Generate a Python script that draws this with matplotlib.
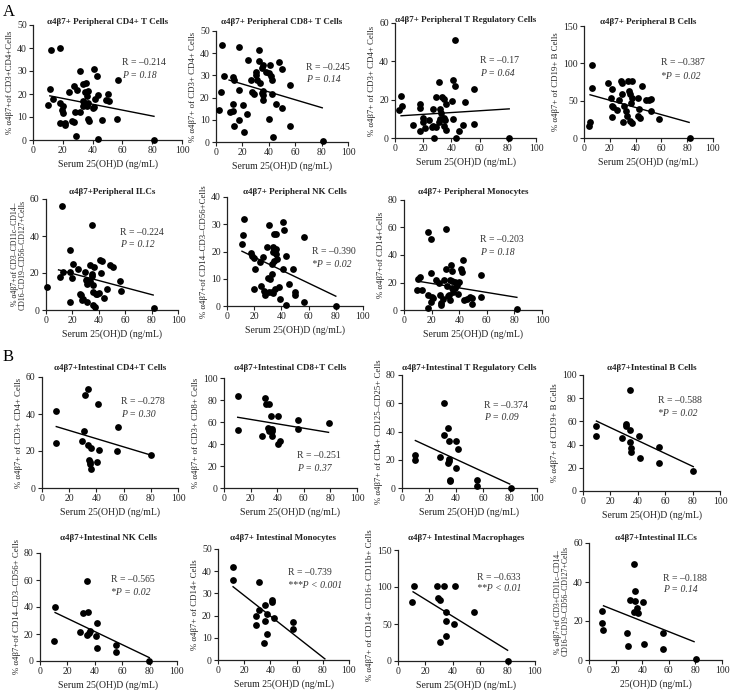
import matplotlib
matplotlib.use("Agg")
import matplotlib.pyplot as plt
import numpy as np

plt.rcParams['font.family'] = ['Liberation Serif', 'DejaVu Serif']

W, H = 730, 690

# ---------------- data ----------------
p1 = [(12.2,39.0),(18.4,40.1),(11.3,22.1),(10.4,15.4),(13.4,18.0),(17.9,16.1),(19.8,14.7),(19.5,13.2),(19.8,11.8),(18.4,7.4),
      (21.2,7.4),(21.6,6.4),(24.2,20.9),(27.5,23.4),(29.4,21.9),(31.8,29.9),(28.2,12.2),(26.4,8.1),(27.5,7.8),(31.3,12.2),
      (33.6,16.9),(33.6,24.4),(35.3,24.6),(34.6,20.9),(36.0,19.0),(34.8,16.1),(33.4,14.7),(36.5,14.7),(36.9,16.1),(36.7,9.3),
      (37.6,8.1),(36.9,21.5),(40.7,30.7),(42.8,27.8),(43.5,19.5),(41.9,17.9),(40.0,13.7),(41.2,14.2),(46.4,8.7),(48.8,17.6),
      (50.6,20.2),(51.3,16.9),(57.2,25.9),(56.5,9.3),(28.7,1.6),(43.8,0.3),(81.0,0.0)]
p2 = [(4.5,43.7),(17.8,42.9),(32.7,41.4),(23.9,36.9),(32.9,36.3),(2.5,14.6),(4.0,22.6),(6.3,29.7),(12.6,29.4),(13.3,27.9),
      (17.8,23.6),(12.6,17.3),(12.6,14.0),(10.8,13.6),(13.8,7.1),(17.3,9.8),(21.4,4.5),(23.4,12.8),(20.4,16.6),(26.6,28.0),
      (27.1,22.3),(29.1,21.8),(30.2,31.6),(30.4,30.1),(31.4,28.0),(33.4,26.4),(34.7,33.4),(35.9,34.6),(35.4,23.0),(35.4,21.1),
      (35.9,18.8),(34.7,22.1),(38.2,31.6),(40.2,31.2),(40.9,34.6),(41.7,29.7),(42.2,27.9),(42.7,21.8),(40.2,10.5),(43.2,2.3),
      (45.5,17.3),(47.7,36.1),(50.3,33.1),(50.3,15.5),(56.3,25.6),(56.3,7.1),(81.2,0.5)]
p3 = [(42.7,51.0),(31.3,29.4),(41.0,30.3),(42.2,27.3),(55.7,25.4),(3.1,14.4),(4.0,22.0),(5.2,16.8),(12.6,6.9),(17.8,17.8),
      (17.8,15.9),(20.1,10.4),(20.1,8.1),(17.8,3.5),(21.3,5.2),(24.2,9.5),(26.8,15.2),(26.1,5.5),(27.3,6.4),(28.9,21.3),
      (29.1,5.5),(28.0,0.0),(32.0,15.1),(32.7,13.0),(33.6,21.3),(35.0,20.2),(36.0,17.8),(32.2,10.0),(34.4,10.4),(35.5,9.5),
      (35.1,6.1),(36.0,4.3),(31.0,8.1),(40.3,19.5),(41.0,10.0),(43.1,0.0),(45.7,3.8),(47.9,6.9),(49.8,19.0),(56.2,7.3),(81.0,0.0)]
p4 = [(6.0,97.9),(6.5,66.8),(3.9,15.6),(4.7,20.9),(18.9,73.4),(21.5,65.4),(20.7,53.4),(21.5,42.3),(22.8,41.4),(22.0,28.0),
      (25.4,37.8),(27.2,51.2),(28.8,77.0),(29.3,73.4),(29.3,58.7),(31.1,42.3),(30.6,20.9),(32.4,35.6),(33.2,28.9),(33.9,75.7),
      (34.5,63.6),(35.8,58.7),(37.0,75.7),(37.0,53.4),(36.3,46.7),(37.0,20.0),(35.8,22.3),(41.7,53.4),(42.7,38.7),(42.2,28.9),
      (43.5,26.7),(45.3,69.9),(48.2,51.2),(50.5,51.2),(52.1,52.1),(52.1,36.5),(58.3,25.4),(82.0,0.0)]
p5 = [(12.1,56.1),(34.7,46.1),(0.8,12.7),(10.3,17.7),(12.8,20.3),(18.3,32.2),(18.3,20.8),(19.6,17.5),(20.4,24.8),(18.3,4.2),
      (23.9,22.1),(25.4,8.7),(26.4,8.1),(27.1,5.4),(28.4,5.8),(29.6,20.3),(30.4,16.3),(31.4,13.9),(31.4,4.2),(33.0,15.7),
      (33.4,24.4),(34.7,19.3),(35.2,18.6),(35.4,13.6),(35.9,9.6),(36.7,23.0),(37.9,8.5),(38.9,8.7),(40.5,9.0),(35.9,2.7),
      (37.2,1.8),(41.0,27.1),(42.2,26.6),(41.5,19.9),(44.0,6.7),(46.5,11.2),(48.5,24.4),(50.5,23.5),(56.0,15.7),(56.5,10.3),(81.7,0.9)]
p6 = [(12.7,32.1),(11.7,26.0),(11.0,22.6),(17.6,19.5),(18.3,18.3),(19.5,17.7),(20.7,13.7),(20.0,6.4),(23.9,16.0),(24.9,7.4),
      (26.8,18.0),(27.3,5.4),(28.0,3.9),(29.3,21.5),(31.2,29.7),(30.5,10.3),(31.7,9.8),(31.2,5.2),(32.9,5.2),(32.9,11.9),
      (33.7,21.5),(34.1,19.9),(32.9,15.3),(34.6,16.4),(34.9,26.3),(36.1,26.6),(36.1,21.1),(35.9,18.9),(36.6,17.4),(35.4,6.1),
      (33.7,4.9),(38.5,7.0),(39.0,2.7),(41.0,30.9),(42.0,27.9),(41.0,13.5),(43.2,18.4),(43.4,0.2),(45.9,7.9),(48.3,13.5),
      (50.0,5.2),(50.0,3.9),(56.6,25.4),(56.6,1.5),(80.5,0.0)]
p7 = [(17.7,57.0),(19.6,51.4),(30.3,58.7),(9.7,14.5),(12.8,14.5),(10.4,22.3),(11.6,24.2),(19.6,27.2),(17.7,10.9),(20.1,9.2),
      (19.4,6.1),(21.3,9.0),(17.7,1.7),(23.0,21.8),(25.2,19.4),(26.4,10.9),(26.9,5.3),(26.6,3.6),(28.6,7.8),(29.3,21.8),
      (30.5,29.6),(31.5,17.5),(31.7,10.4),(32.7,10.9),(33.4,7.3),(33.7,32.7),(33.4,21.8),(34.6,28.6),(34.6,21.1),(35.1,15.8),
      (35.8,13.3),(36.6,20.1),(37.0,15.8),(38.3,18.2),(39.0,11.4),(40.2,20.1),(41.4,29.6),(41.9,27.4),(43.1,36.4),(43.6,7.3),
      (46.0,8.0),(47.9,9.7),(49.6,8.5),(49.6,4.1),(55.9,25.5),(55.9,9.7),(81.8,0.5)]
p8 = [(10.5,41.4),(10.5,24.5),(31.7,50.1),(34.1,53.7),(31.2,30.6),(29.3,25.4),(34.1,23.1),(35.9,21.6),(34.9,15.0),(35.4,14.1),
      (35.4,13.2),(36.1,10.5),(40.7,14.1),(41.5,45.2),(42.2,20.7),(56.1,32.8),(55.4,19.8),(80.5,17.7)]
p9 = [(10.3,83.2),(10.3,52.7),(30.9,81.7),(31.4,76.5),(34.2,76.5),(35.2,65.9),(40.9,65.9),(33.4,54.3),(34.7,53.4),(35.9,51.8),
      (34.2,51.8),(35.9,53.7),(28.9,47.6),(35.9,47.6),(40.9,39.6),(42.2,42.7),(55.5,61.9),(55.5,53.7),(79.0,58.8)]
p10 = [(30.9,60.0),(30.9,37.2),(33.8,42.4),(34.6,33.6),(40.2,33.4),(41.5,27.5),(9.9,23.1),(9.9,20.0),(28.4,21.9),(34.6,20.5),
       (34.6,18.8),(34.1,17.6),(40.2,14.1),(35.8,5.4),(35.8,4.7),(55.6,5.9),(55.6,1.2),(80.7,0.0)]
p11 = [(34.1,87.1),(9.3,56.3),(9.8,47.7),(31.2,57.8),(31.2,56.3),(34.1,52.6),(28.8,46.0),(40.7,47.7),(34.6,42.0),(35.4,37.4),
       (35.4,33.3),(41.5,28.2),(55.6,38.2),(55.6,24.4),(80.5,17.2)]
p12 = [(11.0,40.3),(10.5,14.9),(34.6,59.5),(31.7,35.4),(34.9,36.1),(29.3,21.8),(34.6,19.3),(36.1,20.5),(36.6,22.3),(41.5,28.0),
       (41.0,18.8),(41.5,9.9),(55.4,11.9),(55.4,6.9),(79.8,0.0)]
p13 = [(11.5,42.0),(11.5,36.0),(31.3,35.3),(36.1,25.0),(41.0,27.0),(41.0,26.3),(31.3,22.5),(29.3,19.8),(37.4,20.6),(42.7,19.0),
       (29.3,15.8),(35.6,17.6),(37.4,11.7),(35.1,7.5),(57.6,17.0),(57.6,14.0)]
p14 = [(11.7,101.7),(10.2,80.0),(28.8,101.7),(33.7,101.7),(41.5,101.7),(29.3,84.5),(30.5,83.1),(34.9,66.4),(35.4,54.2),(41.0,50.6),
       (34.9,33.4),(30.5,25.8),(55.6,66.4),(80.0,0.0)]
p15 = [(33.6,49.2),(34.8,35.2),(30.6,30.9),(34.8,30.4),(36.1,26.6),(33.6,24.5),(36.9,24.0),(40.7,29.7),(9.6,24.9),(9.6,18.9),
       (10.9,15.4),(28.5,13.7),(29.0,7.4),(41.2,8.1),(55.8,13.7),(55.6,5.5),(80.3,0.5)]
points = [p1, p2, p3, p4, p5, p6, p7, p8, p9, p10, p11, p12, p13, p14, p15]

# regression line end points (x_start, x_end, y_start, y_end)
fits = [(11.3, 81.2, 19.2, 10.3), (9.9, 80.5, 27.9, 15.4), (4.3, 81.0, 11.6, 15.2), (4.7, 81.5, 57.9, 20.9),
        (9.5, 81.2, 21.7, 8.1), (11.0, 80.0, 20.1, 3.6), (9.2, 81.8, 21.1, 9.2), (10.5, 80.5, 33.2, 17.7),
        (10.3, 78.6, 64.3, 50.6), (9.9, 79.8, 33.6, 2.8), (9.8, 80.5, 60.3, 21.0), (11.0, 79.8, 35.9, 2.5),
        (11.5, 81.6, 33.0, 0.5), (11.0, 80.0, 93.5, 14.5), (10.9, 79.0, 27.8, 9.4)]

titles = ["α4β7+ Peripheral CD4+ T Cells", "α4β7+ Peripheral CD8+ T Cells", "α4β7+ Peripheral T Regulatory Cells",
          "α4β7+ Peripheral B Cells", "α4β7+Peripheral ILCs", "α4β7+ Peripheral NK Cells", "α4β7+ Peripheral Monocytes",
          "α4β7+Intestinal CD4+T Cells", "α4β7+Intestinal CD8+T Cells", "α4β7+Intestinal T Regulatory Cells",
          "α4β7+Intestinal B Cells", "α4β7+Intestinal NK Cells", "α4β7+ Intestinal Monocytes",
          "α4β7+ Intestinal Macrophages", "α4β7+Intestinal ILCs"]
ylabels = ["% α4β7+of CD3+CD4+Cells", "% α4β7+ of CD3+ CD4+ Cells", "% α4β7+ of CD3+ CD4+ Cells",
           "% α4β7+ of CD19+ B Cells", "% α4β7+of CD3–CD11c–CD14–\nCD16–CD19–CD56–CD127+Cells",
           "% α4β7+of CD14–CD3–CD56+Cells", "% α4β7+of CD14+Cells", "% α4β7+ of CD3+ CD4+ Cells",
           "% α4β7+ of CD3+ CD8+ Cells", "% α4β7+ of CD4+ CD125–CD25+ Cells", "% α4β7+ of CD19+ B Cells",
           "% α4β7+of CD14–CD3–CD56+ Cells", "% α4β7+ of CD14+ Cells", "% α4β7+ of CD14+ CD16+ CD11b+ Cells",
           "% α4β7+of CD3+CD11c–CD14–\nCD16–CD19–CD56–CD127+Cells"]
xlabels = ["Serum 25(OH)D (ng/mL)"] * 14 + ["25(OH)D (ng/mL)"]
r_texts = ["R = –0.214", "R = –0.245", "R = –0.17", "R = –0.387", "R = –0.224", "R = –0.390", "R = –0.203",
           "R = –0.278", "R = –0.251", "R = –0.374", "R = –0.588", "R = –0.565", "R = –0.739", "R = –0.633", "R = –0.188"]
p_texts = ["P = 0.18", "P = 0.14", "P = 0.64", "*P = 0.02", "P = 0.12", "*P = 0.02", "P = 0.18",
           "P = 0.30", "P = 0.37", "P = 0.09", "*P = 0.02", "*P = 0.02", "***P < 0.001", "**P < 0.01", "P = 0.14"]
ymaxes = [50, 50, 60, 150, 60, 40, 80, 60, 100, 80, 100, 80, 50, 150, 60]
ysteps = [10, 10, 20, 50, 20, 10, 20, 20, 20, 20, 20, 20, 10, 50, 20]
xticks = [0, 20, 40, 60, 80, 100]

# ---------------- layout (pixels) ----------------
boxes = [(33, 182, 25, 140), (216, 348, 31, 142), (395, 536, 23, 138), (584, 713, 26, 138),
         (46, 178, 199, 310), (227, 363, 197, 306), (404, 542, 200, 310),
         (42, 178, 377, 488), (224, 357, 378, 488), (402, 537, 375, 488), (583, 720, 375, 491),
         (40, 177, 553, 661), (218, 349, 549, 660), (398, 535, 550, 661), (589, 722, 543, 660)]
stat_pos = [(0.60, 0.67, 0.56), (0.68, 0.67, 0.56), (0.60, 0.67, 0.56), (0.60, 0.67, 0.55),
            (0.56, 0.70, 0.59), (0.625, 0.50, 0.38), (0.55, 0.64, 0.52),
            (0.58, 0.78, 0.66), (0.55, 0.30, 0.18), (0.61, 0.73, 0.62), (0.55, 0.78, 0.67),
            (0.52, 0.75, 0.63), (0.535, 0.79, 0.67), (0.58, 0.75, 0.65), (0.56, 0.70, 0.60)]
title_rows_y = [22, 22, 20, 22, 192, 192, 192, 368, 368, 368, 368, 538, 538, 538, 538]

fig = plt.figure(figsize=(W / 100, H / 100), dpi=100)
fig.patch.set_facecolor('white')

for i in range(15):
    x0, x1, yt, yb = boxes[i]
    ax = fig.add_axes([x0 / W, 1 - yb / H, (x1 - x0) / W, (yb - yt) / H])
    xs, ys = zip(*points[i])
    ax.scatter(xs, ys, s=24, c='black', linewidths=0, clip_on=False, zorder=3)
    fx0, fx1, fy0, fy1 = fits[i]
    ax.plot([fx0, fx1], [fy0, fy1], color='black', lw=1.0, zorder=2)
    ax.set_xlim(0, 100)
    ax.set_ylim(0, ymaxes[i])
    ax.set_xticks(xticks)
    ax.set_yticks(np.arange(0, ymaxes[i] + 0.1, ysteps[i]))
    for s in ['top', 'right']:
        ax.spines[s].set_visible(False)
    for s in ['left', 'bottom']:
        ax.spines[s].set_linewidth(0.9)
        ax.spines[s].set_color('#222222')
    ax.tick_params(direction='out', length=3, width=0.8, labelsize=7, pad=1.5, colors='#222222')
    ax.set_xlabel(xlabels[i], fontsize=7, labelpad=3, color='#222222')
    two_line = '\n' in ylabels[i]
    ax.set_ylabel(ylabels[i], fontsize=5.6 if two_line else 6.3, labelpad=2, color='#222222',
                  linespacing=0.95)
    fig.text((x0 + x1) / 2 / W, 1 - title_rows_y[i] / H, titles[i], ha='center', va='center',
             fontsize=6.5, fontweight='bold', color='#222222')
    sx, ry, py = stat_pos[i]
    ax.text(sx, ry, r_texts[i], transform=ax.transAxes, fontsize=7, ha='left', va='center', color='#333333')
    ax.text(sx, py, p_texts[i], transform=ax.transAxes, fontsize=7, ha='left', va='center',
            fontstyle='italic', color='#333333')

fig.text(3 / W, 1 - 12 / H, 'A', fontsize=12, ha='left', va='center')
fig.text(3 / W, 1 - 357 / H, 'B', fontsize=12, ha='left', va='center')

fig.savefig('out.png', dpi=100)
